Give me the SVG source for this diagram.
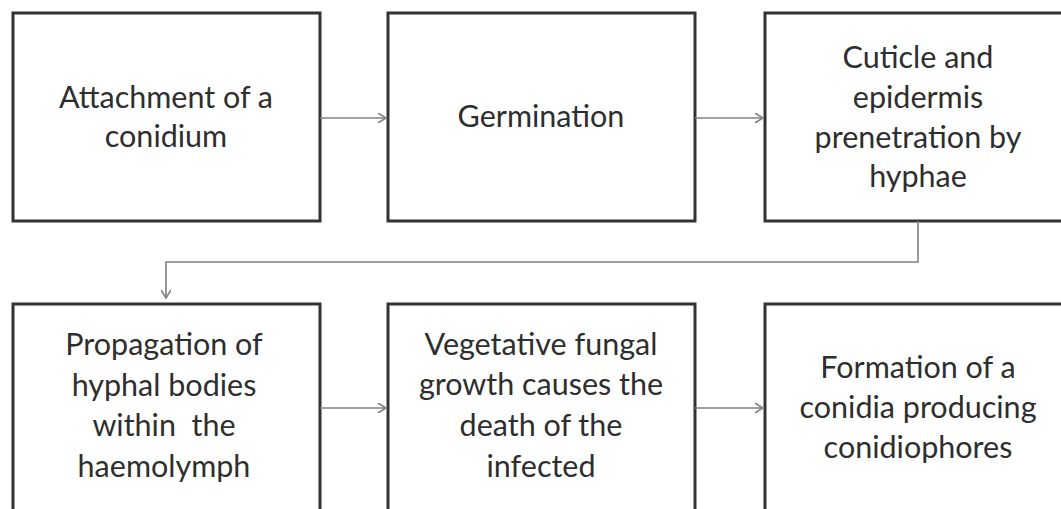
<svg xmlns="http://www.w3.org/2000/svg" width="1061" height="509" viewBox="0 0 1061 509">
<style>
.box{fill:#fff;stroke:#333;stroke-width:3}
.lbl{font-family:Lato,"Open Sans","Liberation Sans",sans-serif;font-size:30.5px;fill:#2e2e2e;text-anchor:middle}
.con{fill:none;stroke:#808080;stroke-width:1.6}
</style>
<defs>
<marker id="ah" viewBox="0 0 10 10" refX="9" refY="5" markerWidth="10" markerHeight="10" markerUnits="userSpaceOnUse" orient="auto">
<path d="M1,0 L9,5 L1,10" fill="none" stroke="#808080" stroke-width="1.6"/>
</marker>
</defs>
<rect width="1061" height="509" fill="#fff"/>
<g id="n1"><rect class="box" x="13" y="13" width="307" height="208"/>
<text class="lbl" x="166" y="108">Attachment of a</text><text class="lbl" x="166" y="147">conidium</text></g>
<g id="n2"><rect class="box" x="388" y="13" width="307" height="208"/>
<text class="lbl" x="541" y="127">Germination</text></g>
<g id="n3"><rect class="box" x="765" y="13" width="306" height="208"/>
<text class="lbl" x="918" y="68">Cuticle and</text><text class="lbl" x="918" y="108">epidermis</text><text class="lbl" x="918" y="148">prenetration by</text><text class="lbl" x="918" y="187">hyphae</text></g>
<g id="n4"><rect class="box" x="13" y="304" width="307" height="215"/>
<text class="lbl" x="164" y="355">Propagation of</text><text class="lbl" x="164" y="396">hyphal bodies</text><text class="lbl" x="164" y="436" xml:space="preserve">within  the</text><text class="lbl" x="164" y="477">haemolymph</text></g>
<g id="n5"><rect class="box" x="388" y="304" width="307" height="215"/>
<text class="lbl" x="541" y="355">Vegetative fungal</text><text class="lbl" x="541" y="395">growth causes the</text><text class="lbl" x="541" y="436">death of the</text><text class="lbl" x="541" y="477">infected</text></g>
<g id="n6"><rect class="box" x="765" y="304" width="306" height="215"/>
<text class="lbl" x="918" y="378">Formation of a</text><text class="lbl" x="918" y="418">conidia producing</text><text class="lbl" x="918" y="458">conidiophores</text></g>
<g id="connectors">
<path class="con" d="M320,118 H386" marker-end="url(#ah)"/>
<path class="con" d="M695,118 H763" marker-end="url(#ah)"/>
<path class="con" d="M918,221 V262 H166 V298" marker-end="url(#ah)"/>
<path class="con" d="M320,408 H386" marker-end="url(#ah)"/>
<path class="con" d="M695,408 H763" marker-end="url(#ah)"/>
</g>
</svg>
